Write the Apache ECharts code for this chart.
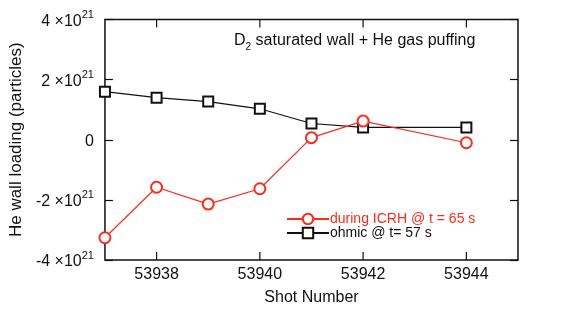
<!DOCTYPE html>
<html>
<head>
<meta charset="utf-8">
<script src="https://cdn.jsdelivr.net/npm/echarts@6/dist/echarts.min.js"></script>
<style>
  html, body { margin: 0; padding: 0; background: #fff; }
  #chart { width: 576px; height: 311px; }
</style>
</head>
<body>
<div id="chart"></div>
<script>
// shot numbers and wall loading (units of 1e21 particles)
const shots = [53937, 53938, 53939, 53940, 53941, 53942, 53944]
const icrh = [-3.26, -1.58, -2.14, -1.63, 0.07, 0.62, -0.10]
const ohmic = [1.60, 1.40, 1.27, 1.03, 0.54, 0.41, 0.41]
const xTicks = [53938, 53940, 53942, 53944]
const yMin = -4
const yMax = 4

const font = '"Liberation Sans", Arial, Helvetica, sans-serif'

function pairs(ys){
    return shots.map((s, i) => [s, ys[i]])
}

function ticks(){
    return { show: true, inside: true, length: 8, lineStyle: { color: '#111', width: 1.2 } }
}

// x ticks on bottom and top edges, placed through the axis scale
function tickItem(params, api){
    const bottom = api.coord([api.value(0), yMin])
    const top = api.coord([api.value(0), yMax])
    const style = { stroke: '#111', lineWidth: 1.2 }
    return {
        type: 'group',
        children: [
            { type: 'line', shape: { x1: bottom[0], y1: bottom[1], x2: bottom[0], y2: bottom[1] - 8 }, style: style },
            { type: 'line', shape: { x1: top[0], y1: top[1], x2: top[0], y2: top[1] + 8 }, style: style }
        ]
    }
}

const myChart = echarts.init(document.getElementById('chart'))

const option = {
    animation: false,
    textStyle: { fontFamily: font },
    // frame drawn by the grid border
    grid: { left: 103, right: 58, top: 19.5, bottom: 46, show: true, borderColor: '#111', borderWidth: 1.5, backgroundColor: 'transparent' },
    legend: {
        orient: 'vertical',
        left: 281,
        top: 207,
        itemWidth: 42,
        itemHeight: 13,
        itemGap: 0,
        textStyle: { fontFamily: font, fontSize: 14, padding: [0, 0, 0, -4] },
        data: [
            { name: 'during ICRH @ t = 65 s', textStyle: { color: '#ff2a1a' } },
            { name: 'ohmic @ t= 57 s', textStyle: { color: '#111' } }
        ]
    },
    graphic: [{
        type: 'text',
        left: 234,
        top: 33,
        style: {
            text: '{n|D}{s|2}{n| saturated wall + He gas puffing}',
            rich: {
                n: { fontFamily: font, fontSize: 16, fill: '#111', verticalAlign: 'top', lineHeight: 19 },
                s: { fontFamily: font, fontSize: 10, fill: '#111', verticalAlign: 'bottom', lineHeight: 8 }
            }
        }
    }],
    xAxis: {
        type: 'value',
        min: 53937,
        max: 53945,
        name: 'Shot Number',
        nameLocation: 'middle',
        nameGap: 30,
        nameTextStyle: { fontFamily: font, fontSize: 16, color: '#111' },
        splitLine: { show: false },
        axisLine: { show: false, onZero: false },
        axisTick: { show: false },
        axisLabel: { customValues: xTicks, fontSize: 16, color: '#111', margin: 7,
            formatter: v => String(v) }
    },
    yAxis: [{
        type: 'value',
        min: yMin,
        max: yMax,
        interval: 2,
        name: 'He wall loading (particles)',
        nameLocation: 'middle',
        nameGap: 69,
        nameTextStyle: { fontFamily: font, fontSize: 17, color: '#111' },
        splitLine: { show: false },
        axisLine: { show: false },
        axisTick: ticks(),
        axisLabel: {
            margin: 11,
            color: '#111',
            formatter: v => v === 0 ? '{b|0}' : '{b|' + v + ' \u00d710}{s|21}',
            rich: {
                b: { fontFamily: font, fontSize: 16, color: '#111', verticalAlign: 'bottom', lineHeight: 20 },
                s: { fontFamily: font, fontSize: 11, color: '#111', verticalAlign: 'top', lineHeight: 10 }
            }
        }
    }, {
        type: 'value',
        position: 'right',
        min: yMin,
        max: yMax,
        interval: 2,
        splitLine: { show: false },
        axisLine: { show: false },
        axisTick: ticks(),
        axisLabel: { show: false }
    }],
    series: [
        {
            name: 'during ICRH @ t = 65 s',
            type: 'line',
            data: pairs(icrh),
            symbol: 'emptyCircle',
            symbolSize: 11,
            color: '#ff2a1a',
            lineStyle: { width: 1.2, color: '#ff2a1a' },
            itemStyle: { color: '#ff2a1a', borderWidth: 1.2 },
            z: 3
        },
        {
            name: 'ohmic @ t= 57 s',
            type: 'line',
            data: pairs(ohmic),
            symbol: 'emptyRect',
            symbolSize: 10,
            color: '#111',
            lineStyle: { width: 1.2, color: '#111' },
            itemStyle: { color: '#111', borderWidth: 1.2 },
            z: 2
        },
        {
            name: 'xticks',
            type: 'custom',
            renderItem: tickItem,
            data: xTicks.map(v => [v, yMin]),
            encode: { x: 0, y: 1 },
            clip: false,
            silent: true,
            z: 1
        }
    ]
}

myChart.setOption(option)
</script>
</body>
</html>
